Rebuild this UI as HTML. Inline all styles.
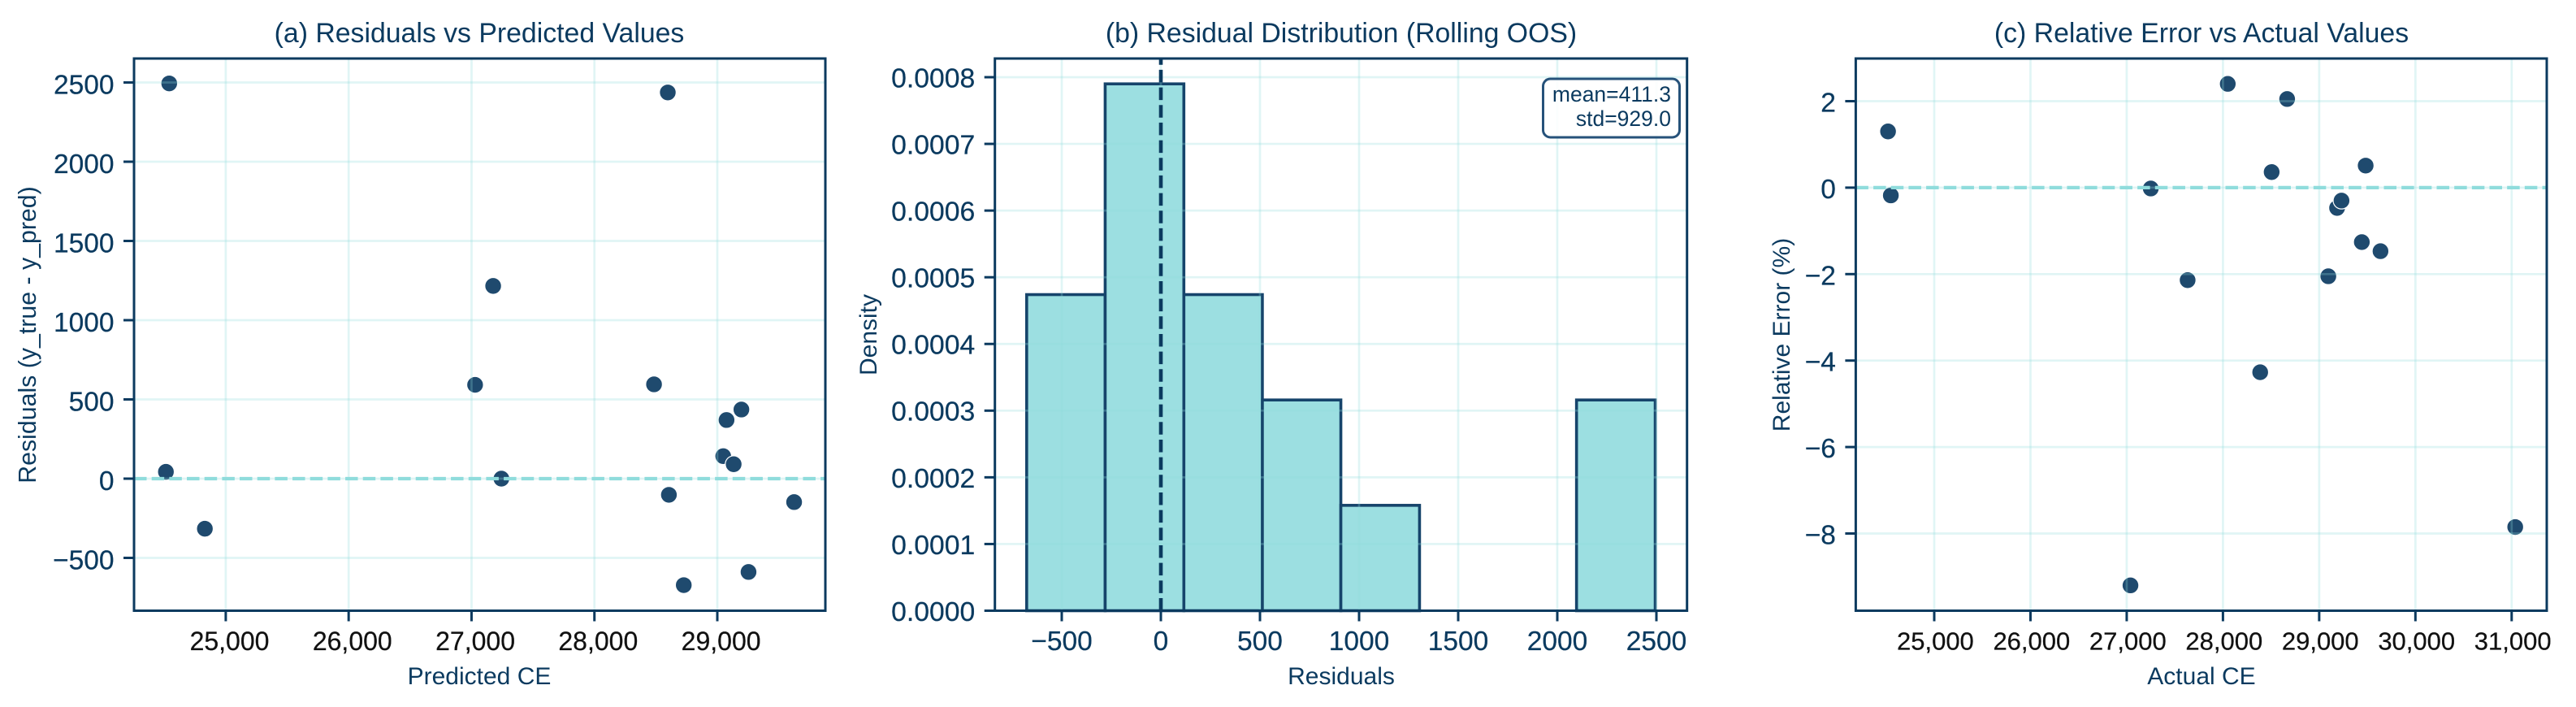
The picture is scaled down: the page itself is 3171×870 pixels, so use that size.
<!DOCTYPE html>
<html lang="en">
<head>
<meta charset="utf-8">
<title>Residual diagnostics</title>
<style>
html,body{margin:0;padding:0;background:#fff;width:3171px;height:870px;overflow:hidden}
svg{display:block}
text{font-family:"Liberation Sans",Arial,sans-serif;fill:#0b3a5f}
</style>
</head>
<body>
<svg id="fig" xmlns="http://www.w3.org/2000/svg" width="3171" height="870" viewBox="0 0 3171 870"></svg>
<script>
// Panel (a) data
const predictedCE = [24540,28597,27176,27029,28485,29196,29075,29048,29133,24513,27243,28606,29625,24830,29254,28727];
const residuals = [2494,2437,1216,592,595,436,370,142,91,43,0,-102,-148,-316,-589,-672];
const aXTicks = [25000,26000,27000,28000,29000];
const aXTickLabels = ["25,000","26,000","27,000","28,000","29,000"];
const aYTicks = [-500,0,500,1000,1500,2000,2500];
const aYTickLabels = ["\u2212500","0","500","1000","1500","2000","2500"];
// Panel (b) data
const binEdges = [-677,-281,116,512,908,1305,1701,2097,2494];
const binDensity = [0.000474,0.00079,0.000474,0.000316,0.000158,0,0,0.000316];
const bXTicks = [-500,0,500,1000,1500,2000,2500];
const bXTickLabels = ["\u2212500","0","500","1000","1500","2000","2500"];
const bYTicks = [0,0.0001,0.0002,0.0003,0.0004,0.0005,0.0006,0.0007,0.0008];
const bYTickLabels = ["0.0000","0.0001","0.0002","0.0003","0.0004","0.0005","0.0006","0.0007","0.0008"];
// Panel (c) data
const actualCE = [24520,24549,27250,28050,28667,28506,29483,29186,29232,29443,29637,29095,27633,28387,27039,31037];
const relativeError = [1.30,-0.18,-0.02,2.40,2.05,0.36,0.51,-0.47,-0.30,-1.26,-1.47,-2.05,-2.14,-4.27,-9.2,-7.85];
const cXTicks = [25000,26000,27000,28000,29000,30000,31000];
const cXTickLabels = ["25,000","26,000","27,000","28,000","29,000","30,000","31,000"];
const cYTicks = [-8,-6,-4,-2,0,2];
const cYTickLabels = ["\u22128","\u22126","\u22124","\u22122","0","2"];

const NS = "http://www.w3.org/2000/svg";
const fig = document.getElementById("fig");
const INK = "#0b3a5f", GRID = "#8fdcdc", TEAL = "#8fdcdc", DOT = "#1f4a6e", BAR = "#9cdfe1", BAREDGE = "#16446b";
const TOP = 72, BOTTOM = 751.5;

function shape(tag, props, parent) {
  const n = document.createElementNS(NS, tag);
  for (const k in props) n.setAttribute(k, props[k]);
  (parent || fig).appendChild(n);
  return n;
}
function linear(d0, d1, r0, r1) {
  return v => r0 + (v - d0) * (r1 - r0) / (d1 - d0);
}
function drawGrid(g, xTicks, yTicks, x, y, L, R) {
  xTicks.forEach(t => {
    const el = shape("line", {x1:x(t), x2:x(t), y1:TOP, y2:BOTTOM, stroke:GRID, "stroke-width":2.7, "stroke-opacity":0.28}, g);
    
    
  });
  yTicks.forEach(t => {
    const el = shape("line", {x1:L, x2:R, y1:y(t), y2:y(t), stroke:GRID, "stroke-width":2.7, "stroke-opacity":0.28}, g);
    
    
  });
}
function drawFrame(g, xTicks, xLabels, yTicks, yLabels, x, y, L, R, o) {
  const spine = shape("rect", {x:L, y:TOP, width:R-L, height:BOTTOM-TOP, fill:"none", stroke:INK, "stroke-width":3}, g);
  
  
  xTicks.forEach((t, i) => {
    const m = shape("line", {x1:x(t), x2:x(t), y1:BOTTOM, y2:BOTTOM+13, stroke:INK, "stroke-width":3}, g);
    
    
    const lab = shape("text", {x:x(t)+o.xShift, y:o.xBase, "text-anchor":"middle", "font-size":o.xFont, style:"fill:"+o.xColor+";stroke:"+o.xColor+";stroke-width:0.25"}, g);
    lab.textContent = xLabels[i];
    
    
  });
  yTicks.forEach((t, i) => {
    const m = shape("line", {x1:L-13, x2:L, y1:y(t), y2:y(t), stroke:INK, "stroke-width":3}, g);
    
    
    const lab = shape("text", {x:L-24.5, y:y(t)+o.yBase, "text-anchor":"end", "font-size":o.yFont, style:"stroke:"+INK+";stroke-width:0.25"}, g);
    lab.textContent = yLabels[i];
    
    
  });
}
function drawDots(g, xs, ys, x, y) {
  xs.forEach((v, i) => {
    const c = shape("circle", {cx:x(v), cy:y(ys[i]), r:10.3, fill:DOT, stroke:"#fff", "stroke-width":1.2}, g);
    
    
  });
}
function drawZero(g, y, L, R) {
  const l = shape("line", {x1:L, x2:R, y1:y(0), y2:y(0), stroke:TEAL, "stroke-width":4.2, "stroke-dasharray":"15.5 6.17"}, g);
  
  
}
function addText(g, str, px, py, size, rot) {
  const props = {x:px, y:py, "text-anchor":"middle", "font-size":size};
  if (rot) props.transform = "rotate(-90 " + px + " " + py + ")";
  const t = shape("text", props, g);
  t.textContent = str;
  return t;
}

/* Panel A */
(function () {
  const L = 165, R = 1016;
  const x = linear(25000, 29000, 277.9, 883);
  const y = linear(0, 2500, 589, 101.5);
  const g = shape("g", {});
  
  
  drawDots(g, predictedCE, residuals, x, y);
  drawGrid(g, aXTicks, aYTicks, x, y, L, R);
  drawZero(g, y, L, R);
  drawFrame(g, aXTicks, aXTickLabels, aYTicks, aYTickLabels, x, y, L, R, {xFont:32, yFont:33.5, xShift:4.6, xBase:800, yBase:14, xColor:"#111"});
  const t = addText(g, "(a) Residuals vs Predicted Values", 590, 52, 33.8);
  
  
  const xl = addText(g, "Predicted CE", 590, 842, 30);
  
  
  const yl = addText(g, "Residuals (y_true - y_pred)", 44, 412, 30.3, true);
  
  
})();

/* Panel B */
(function () {
  const L = 1224.7, R = 2076.7;
  const x = linear(0, 2500, 1429, 2039);
  const y = linear(0, 0.0008, 751.5, 95);
  const g = shape("g", {});
  
  
  binDensity.forEach((d, i) => {
    if (d <= 0) return;
    const x0 = x(binEdges[i]), x1 = x(binEdges[i + 1]);
    const b = shape("rect", {x:x0, y:y(d), width:x1-x0, height:y(0)-y(d), fill:BAR, stroke:BAREDGE, "stroke-width":3.6}, g);
    
    
  });
  drawGrid(g, bXTicks, bYTicks, x, y, L, R);
  const z = shape("line", {x1:x(0), x2:x(0), y1:BOTTOM, y2:TOP, stroke:INK, "stroke-width":4.6, "stroke-dasharray":"15.5 6.17"}, g);
  
  
  drawFrame(g, bXTicks, bXTickLabels, bYTicks, bYTickLabels, x, y, L, R, {xFont:33.5, yFont:33.7, xShift:0, xBase:800, yBase:12.4, xColor:INK});
  const box = shape("g", {}, g);
  
  
  shape("rect", {x:1899.5, y:97, width:168, height:72, rx:9, ry:9, fill:"#fff", "fill-opacity":0.85, stroke:"#26527a", "stroke-width":3}, box);
  const m = shape("text", {x:2057, y:125, "text-anchor":"end", "font-size":26.5}, box);
  m.textContent = "mean=411.3";
  
  
  const s = shape("text", {x:2057, y:155, "text-anchor":"end", "font-size":26.5}, box);
  s.textContent = "std=929.0";
  
  
  const t = addText(g, "(b) Residual Distribution (Rolling OOS)", 1651, 52, 33.8);
  
  
  const xl = addText(g, "Residuals", 1651, 842, 30);
  
  
  const yl = addText(g, "Density", 1079, 412, 30, true);
  
  
})();

/* Panel C */
(function () {
  const L = 2284.4, R = 3135;
  const x = linear(25000, 31000, 2381, 3091.8);
  const y = linear(0, 2, 230.9, 124.5);
  const g = shape("g", {});
  
  
  drawDots(g, actualCE, relativeError, x, y);
  drawGrid(g, cXTicks, cYTicks, x, y, L, R);
  drawZero(g, y, L, R);
  drawFrame(g, cXTicks, cXTickLabels, cYTicks, cYTickLabels, x, y, L, R, {xFont:31, yFont:33.5, xShift:1.4, xBase:799.5, yBase:13, xColor:"#111"});
  const t = addText(g, "(c) Relative Error vs Actual Values", 2710, 52, 33.8);
  
  
  const xl = addText(g, "Actual CE", 2710, 842, 30);
  
  
  const yl = addText(g, "Relative Error (%)", 2203, 412, 30, true);
  
  
})();
</script>
</body>
</html>
